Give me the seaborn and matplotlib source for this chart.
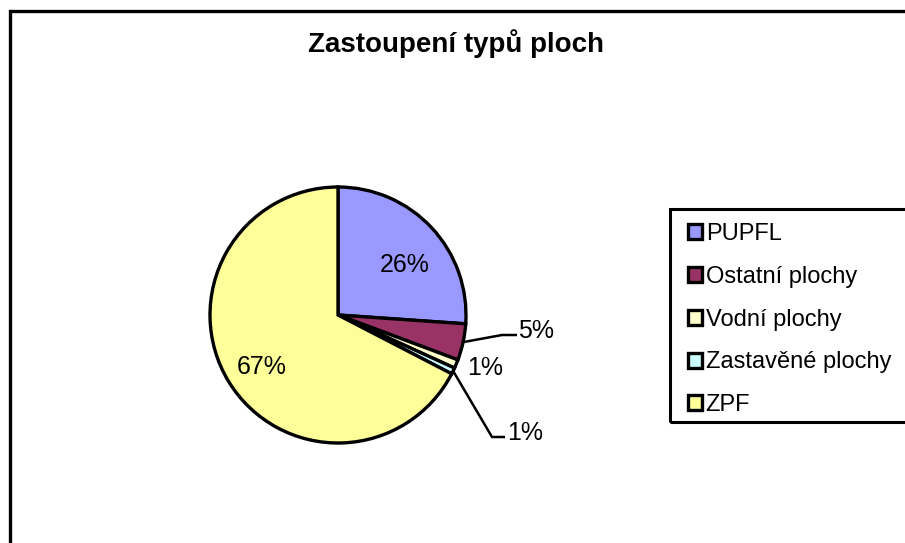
import matplotlib
matplotlib.use("Agg")
import matplotlib.pyplot as plt
from matplotlib.patches import Rectangle
import numpy as np
import seaborn as sns

# ---- data ----
categories = ["PUPFL", "Ostatní plochy", "Vodní plochy", "Zastavěné plochy", "ZPF"]
shares = [26.1, 4.6, 1.1, 0.8, 67.4]
title = "Zastoupení typů ploch"

# ---- style ----
sns.set_theme(style="white")
plt.rcParams["font.family"] = ["Liberation Sans", "DejaVu Sans"]
plt.rcParams["text.color"] = "black"
colors = ["#9999FF", "#993366", "#FFFFCC", "#CCFFFF", "#FFFF99"]

W, H = 905, 543
fig = plt.figure(figsize=(W / 100, H / 100), dpi=100)
fig.patch.set_facecolor("white")
ax = fig.add_axes([0, 0, 1, 1])


def Y(y):
    return H - y


cx, cy, R = 338, 315, 128
wedges, _ = ax.pie(
    shares, colors=colors, startangle=90, counterclock=False,
    radius=R, center=(cx, Y(cy)), frame=True,
    wedgeprops=dict(edgecolor="black", linewidth=2.4),
)
ax.set_xlim(0, W)
ax.set_ylim(0, H)
ax.set_aspect("equal")
ax.axis("off")

# chart border (cut off on right / bottom like the reference)
ax.add_patch(Rectangle((10, -20), W + 40, Y(11) + 20, fill=False,
                       edgecolor="black", linewidth=2.4, clip_on=False))

# title
ax.text(456, Y(52), title, ha="center", va="baseline", fontsize=20,
        fontweight="bold", color="black")

# percentage labels
pct = [f"{round(v)}%" for v in shares]
lab_fs = 18


def edge_point(w, frac=1.0):
    mid = np.deg2rad((w.theta1 + w.theta2) / 2)
    return cx + frac * R * np.cos(mid), Y(cy) + frac * R * np.sin(mid)


# inside labels
ax.text(405, Y(265), pct[0], ha="center", va="center", fontsize=lab_fs)
ax.text(262, Y(367), pct[4], ha="center", va="center", fontsize=lab_fs)
# 5% with leader
x0, y0 = edge_point(wedges[1])
ax.plot([x0, 502, 517], [y0, Y(335), Y(335)], color="black", lw=1.8,
        solid_capstyle="butt")
ax.text(518, Y(331), pct[1], ha="left", va="center", fontsize=lab_fs)
# 1% without leader
ax.text(485, Y(368), pct[2], ha="center", va="center", fontsize=lab_fs)
# 1% with leader
x0, y0 = edge_point(wedges[3])
ax.plot([x0, 492, 505], [y0, Y(437), Y(437)], color="black", lw=1.8,
        solid_capstyle="butt")
ax.text(507, Y(433), pct[3], ha="left", va="center", fontsize=lab_fs)

# legend box
ax.add_patch(Rectangle((670, Y(422)), 300, 422 - 209, fill=False,
                       edgecolor="black", linewidth=2.2, clip_on=False))
leg = ax.legend(
    wedges, categories, loc="upper left",
    bbox_to_anchor=(688 / W, Y(223) / H),
    frameon=False, fontsize=17, handlelength=0.6, handleheight=0.6,
    handletextpad=0.15, labelspacing=0.88, borderpad=0, borderaxespad=0,
)
for t in leg.get_texts():
    t.set_color("black")

fig.savefig("out.png", dpi=100, facecolor="white")
